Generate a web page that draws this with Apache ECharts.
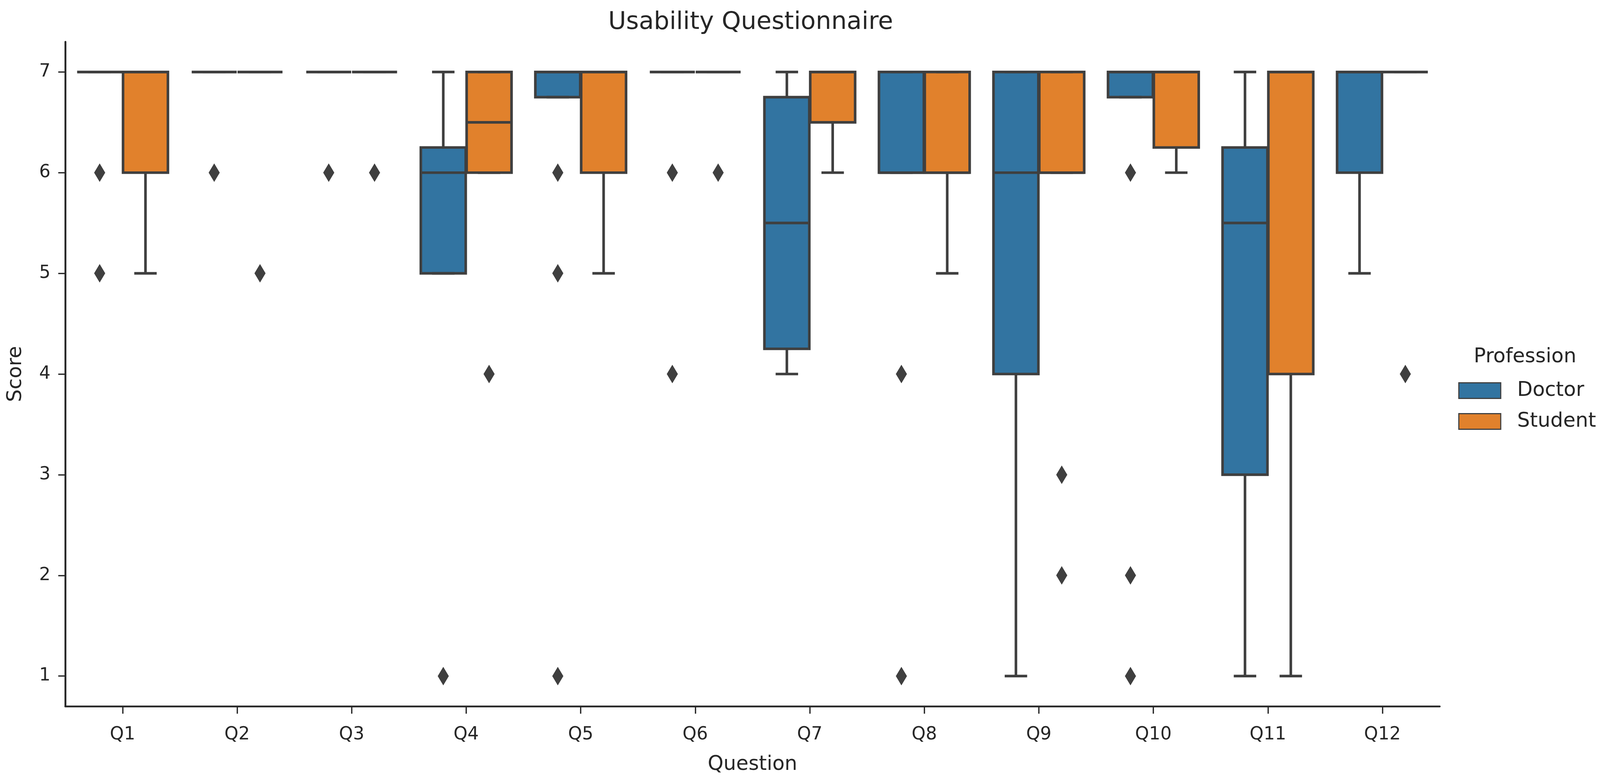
<!DOCTYPE html>
<html>
<head>
<meta charset="utf-8">
<script src="https://cdn.jsdelivr.net/npm/echarts@6/dist/echarts.min.js"></script>
<style>html,body{margin:0;padding:0;background:#fff;overflow:hidden;}#chart{position:absolute;left:0;top:0;}</style>
</head>
<body>
<div id="chart"></div>
<script>
const categories = ['Q1','Q2','Q3','Q4','Q5','Q6','Q7','Q8','Q9','Q10','Q11','Q12'];
const yTickValues = [1,2,3,4,5,6,7];

const doctorLowerWhisker = [7,7,7,5,6.75,7,4,6,1,6.75,1,5];
const doctorQ1          = [7,7,7,5,6.75,7,4.25,6,4,6.75,3,6];
const doctorMedian      = [7,7,7,6,7,7,5.5,6,6,7,5.5,7];
const doctorQ3          = [7,7,7,6.25,7,7,6.75,7,7,7,6.25,7];
const doctorUpperWhisker= [7,7,7,7,7,7,7,7,7,7,7,7];
const doctorOutliers = [[0,6],[0,5],[1,6],[2,6],[3,1],[4,6],[4,5],[4,1],[5,6],[5,4],[7,4],[7,1],[9,6],[9,2],[9,1]];

const studentLowerWhisker = [5,7,7,6,5,7,6,5,6,6,1,7];
const studentQ1           = [6,7,7,6,6,7,6.5,6,6,6.25,4,7];
const studentMedian       = [7,7,7,6.5,7,7,7,6,6,7,7,7];
const studentQ3           = [7,7,7,7,7,7,7,7,7,7,7,7];
const studentUpperWhisker = [7,7,7,7,7,7,7,7,7,7,7,7];
const studentOutliers = [[1,5],[2,6],[3,4],[5,6],[8,3],[8,2],[11,4]];

const FONT = 'DejaVu Sans';
const TEXT = '#262626';
const LINE = '#3f3f3f';
const BLUE = '#3274a1';
const ORANGE = '#e1812c';

// layout designed for a 4312 x 2003 page; scaled to the real viewport
const W = window.innerWidth || 4312;
const H = window.innerHeight || 2003;
const kx = W / 4312, ky = H / 2003, k = Math.min(kx, ky);
const X = v => v * kx, Y = v => v * ky, S = v => v * k;

const el = document.getElementById('chart');
el.style.width = W + 'px';
el.style.height = H + 'px';

function boxData(lw, q1, md, q3, uw) {
  return categories.map((c, i) => [i, lw[i], q1[i], md[i], q3[i], uw[i]]);
}

function boxRender(offset, fill) {
  return function (params, api) {
    const ci = api.value(0);
    const band = api.size([1, 0])[0];
    const cx = api.coord([ci, 0])[0] + offset * band;
    const half = 0.196 * band;
    const cap = half / 2;
    const py = v => api.coord([ci, v])[1];
    const wl = py(api.value(1)), q1 = py(api.value(2)), md = py(api.value(3)), q3 = py(api.value(4)), wh = py(api.value(5));
    const lw = S(7);
    const ls = { stroke: LINE, lineWidth: lw, fill: null };
    return {
      type: 'group',
      children: [
        { type: 'rect', shape: { x: cx - half, y: q3, width: 2 * half, height: q1 - q3 }, style: { fill: fill, stroke: LINE, lineWidth: lw } },
        { type: 'line', shape: { x1: cx, y1: q1, x2: cx, y2: wl }, style: ls },
        { type: 'line', shape: { x1: cx, y1: q3, x2: cx, y2: wh }, style: ls },
        { type: 'line', shape: { x1: cx - cap, y1: wl, x2: cx + cap, y2: wl }, style: ls },
        { type: 'line', shape: { x1: cx - cap, y1: wh, x2: cx + cap, y2: wh }, style: ls },
        { type: 'line', shape: { x1: cx - half, y1: md, x2: cx + half, y2: md }, style: ls }
      ]
    };
  };
}

function outlierRender(offset) {
  return function (params, api) {
    const ci = api.value(0);
    const band = api.size([1, 0])[0];
    const p = api.coord([ci, api.value(1)]);
    const x = p[0] + offset * band, y = p[1];
    const hh = S(25), hw = S(15);
    return {
      type: 'polygon',
      shape: { points: [[x, y - hh], [x + hw, y], [x, y + hh], [x - hw, y]] },
      style: { fill: LINE, stroke: null }
    };
  };
}

const chart = echarts.init(el, null, { renderer: 'canvas', width: W, height: H });
chart.setOption({
  animation: false,
  backgroundColor: '#ffffff',
  title: {
    text: 'Usability Questionnaire',
    left: X(2023), top: Y(26), textAlign: 'center', padding: 0,
    textStyle: { fontFamily: FONT, fontSize: S(66), fontWeight: 'normal', color: TEXT }
  },
  graphic: [{
    type: 'text', x: X(4110), y: Y(915),
    style: { text: 'Profession', align: 'center', verticalAlign: 'middle', fontFamily: FONT, fontSize: S(54), fill: TEXT }
  }],
  legend: {
    data: [
      { name: 'Doctor', icon: 'rect', itemStyle: { color: BLUE, borderColor: LINE, borderWidth: S(3) } },
      { name: 'Student', icon: 'rect', itemStyle: { color: ORANGE, borderColor: LINE, borderWidth: S(3) } }
    ],
    orient: 'vertical', left: X(3930), top: Y(975), padding: 0,
    itemWidth: X(113), itemHeight: Y(40), itemGap: Y(28),
    textStyle: { fontFamily: FONT, fontSize: S(54), color: TEXT, padding: [0, 0, 0, X(39)] }
  },
  grid: { left: X(176), right: X(432), top: Y(107), bottom: Y(194), containLabel: false },
  xAxis: {
    type: 'category', data: categories, boundaryGap: true,
    name: 'Question', nameLocation: 'middle', nameGap: Y(124),
    nameTextStyle: { fontFamily: FONT, fontSize: S(54), color: TEXT },
    axisLine: { show: true, onZero: false, lineStyle: { color: TEXT, width: S(5) } },
    axisTick: { show: true, alignWithLabel: true, length: Y(19), lineStyle: { color: TEXT, width: S(3.5) } },
    axisLabel: { fontFamily: FONT, fontSize: S(48), color: TEXT, margin: Y(50) },
    splitLine: { show: false }
  },
  yAxis: {
    type: 'value', min: 0.7, max: 7.3,
    name: 'Score', nameLocation: 'middle', nameGap: X(106), nameRotate: 90,
    nameTextStyle: { fontFamily: FONT, fontSize: S(54), color: TEXT },
    axisLine: { show: true, lineStyle: { color: TEXT, width: S(5) } },
    axisTick: { show: true, length: X(19), customValues: yTickValues, lineStyle: { color: TEXT, width: S(3.5) } },
    axisLabel: { fontFamily: FONT, fontSize: S(48), color: TEXT, margin: X(40), customValues: yTickValues },
    splitLine: { show: false }
  },
  series: [
    {
      name: 'Doctor', type: 'custom', coordinateSystem: 'cartesian2d',
      itemStyle: { color: BLUE, borderColor: LINE },
      encode: { x: 0, y: [1, 2, 3, 4, 5] },
      data: boxData(doctorLowerWhisker, doctorQ1, doctorMedian, doctorQ3, doctorUpperWhisker),
      renderItem: boxRender(-0.2, BLUE), z: 2
    },
    {
      name: 'Student', type: 'custom', coordinateSystem: 'cartesian2d',
      itemStyle: { color: ORANGE, borderColor: LINE },
      encode: { x: 0, y: [1, 2, 3, 4, 5] },
      data: boxData(studentLowerWhisker, studentQ1, studentMedian, studentQ3, studentUpperWhisker),
      renderItem: boxRender(0.2, ORANGE), z: 2
    },
    {
      name: 'Doctor outliers', type: 'custom', coordinateSystem: 'cartesian2d',
      encode: { x: 0, y: 1 }, data: doctorOutliers, renderItem: outlierRender(-0.2), z: 3
    },
    {
      name: 'Student outliers', type: 'custom', coordinateSystem: 'cartesian2d',
      encode: { x: 0, y: 1 }, data: studentOutliers, renderItem: outlierRender(0.2), z: 3
    }
  ]
});
</script>
</body>
</html>
